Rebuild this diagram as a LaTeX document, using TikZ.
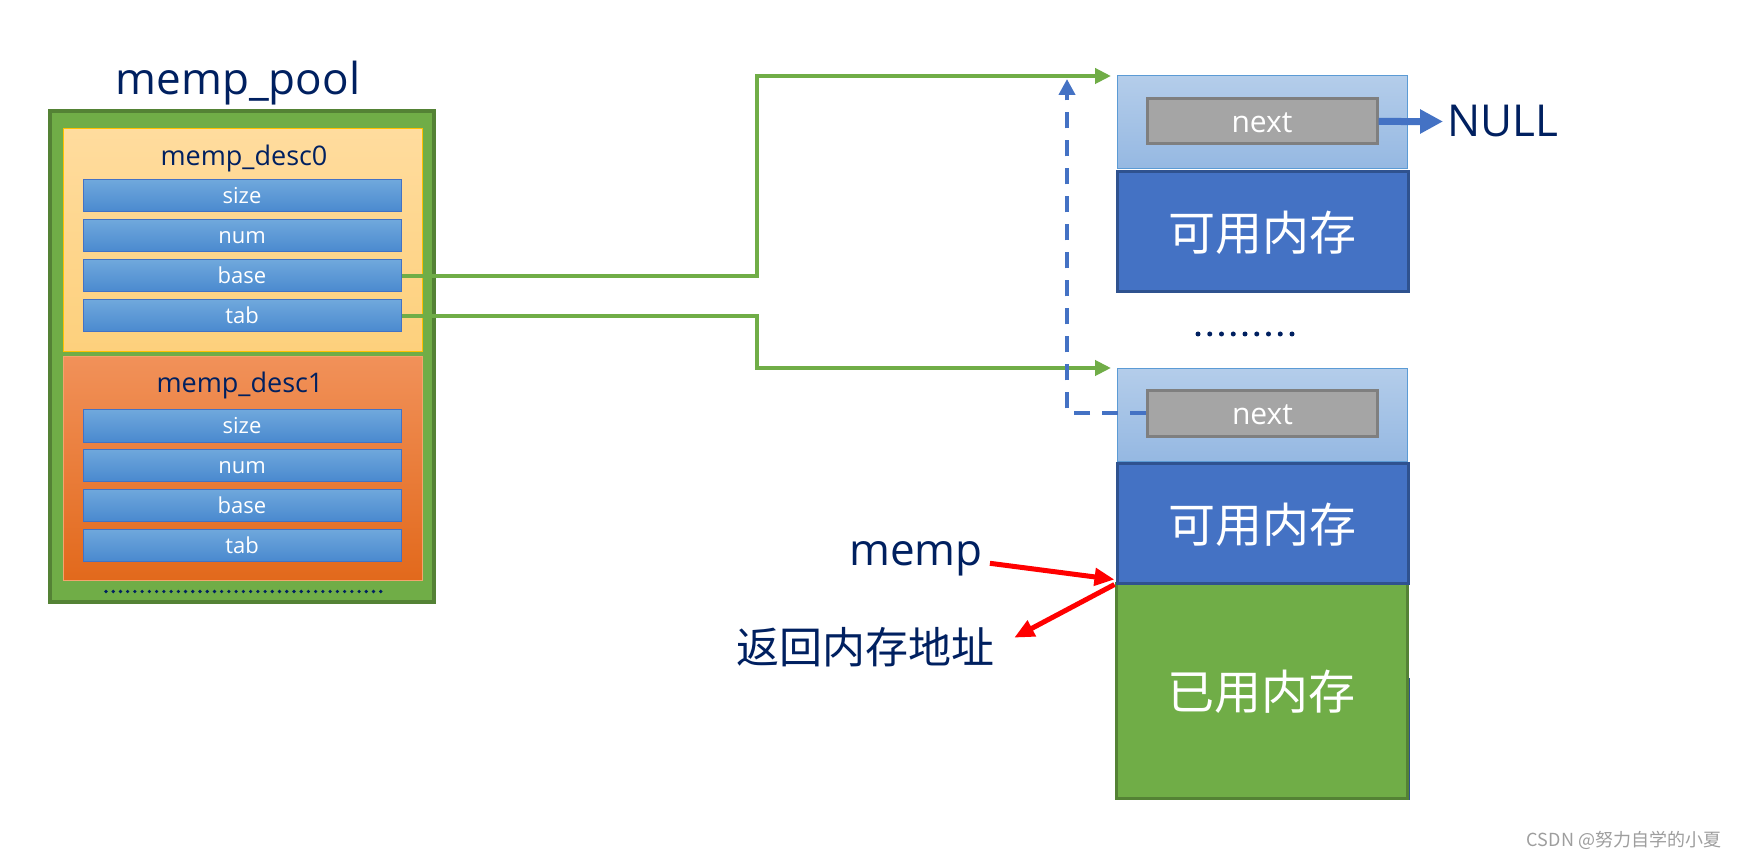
\documentclass[tikz,border=0pt]{standalone}
\usepackage{fontspec}
\setmainfont{Open Sans}
\newfontfamily\cjk{Noto Sans CJK SC}
\usetikzlibrary{arrows.meta}
\definecolor{navy}{HTML}{002060}
\definecolor{poolfill}{HTML}{70AD47}
\definecolor{poolborder}{HTML}{548235}
\definecolor{dzerotop}{HTML}{FFDC9E}
\definecolor{dzerobot}{HTML}{FDD07C}
\definecolor{dzeroborder}{HTML}{FFC000}
\definecolor{donetop}{HTML}{F19159}
\definecolor{donebot}{HTML}{E2691C}
\definecolor{doneborder}{HTML}{F4A46E}
\definecolor{bartop}{HTML}{6FA8DC}
\definecolor{barbot}{HTML}{4A89CF}
\definecolor{barborder}{HTML}{4472C4}
\definecolor{hdrtop}{HTML}{B4CDEA}
\definecolor{hdrbot}{HTML}{95B8E2}
\definecolor{hdrborder}{HTML}{5B9BD5}
\definecolor{nextfill}{HTML}{A5A5A5}
\definecolor{nextborder}{HTML}{7F7F7F}
\definecolor{availfill}{HTML}{4472C4}
\definecolor{availborder}{HTML}{2F528F}
\definecolor{linkgreen}{HTML}{70AD47}
\definecolor{linkblue}{HTML}{4472C4}
\definecolor{wmgray}{HTML}{9E9E9E}
\begin{document}
\begin{tikzpicture}[x=1pt,y=-1pt,
  pool/.style={draw=poolborder, line width=3.5pt, fill=poolfill, minimum width=384pt, minimum height=491pt, inner sep=0pt},
  dzero/.style={draw=dzeroborder, line width=1pt, top color=dzerotop, bottom color=dzerobot, minimum width=359pt, minimum height=223pt, inner sep=0pt},
  done/.style={draw=doneborder, line width=1pt, top color=donetop, bottom color=donebot, minimum width=359pt, minimum height=223pt, inner sep=0pt},
  bar/.style={draw=barborder, line width=1pt, top color=bartop, bottom color=barbot, minimum width=318pt, minimum height=32pt, inner sep=0pt, text=white, font=\fontsize{22}{24}\selectfont, text height=16pt, text depth=0pt},
  bigtitle/.style={text=navy, inner sep=0pt, font=\fontsize{44}{48}\selectfont},
  subtitle/.style={text=navy, inner sep=0pt, font=\fontsize{27}{30}\selectfont},
  hdr/.style={draw=hdrborder, line width=1pt, top color=hdrtop, bottom color=hdrbot, minimum width=290pt, minimum height=93pt, inner sep=0pt},
  nextbox/.style={draw=nextborder, line width=3pt, fill=nextfill, minimum width=230pt, minimum height=45pt, inner sep=0pt, text=white, font=\fontsize{30}{32}\selectfont, text height=22pt, text depth=0pt},
  avail/.style={draw=availborder, line width=3pt, fill=availfill, minimum width=291pt, minimum height=120pt, inner sep=0pt, text=white, font=\cjk\fontsize{47}{50}\selectfont, text height=38pt, text depth=0pt},
  usedbox/.style={draw=poolborder, line width=3pt, fill=poolfill, minimum width=291pt, minimum height=215pt, inner sep=0pt, text=white, font=\cjk\fontsize{47}{50}\selectfont, text height=38pt, text depth=0pt},
  cjklabel/.style={text=navy, inner sep=0pt, font=\cjk\fontsize{43}{46}\selectfont},
  wm/.style={text=wmgray, inner sep=0pt, font=\cjk\fontsize{18}{20}\selectfont},
  greenlink/.style={draw=linkgreen, line width=4pt, -{Triangle[length=16pt,width=15pt]}},
  dashlink/.style={draw=linkblue, line width=4pt, dash pattern=on 16pt off 12pt, -{Triangle[length=16pt,width=16pt]}},
  nulllink/.style={draw=linkblue, line width=7pt, -{Triangle[length=23pt,width=23pt]}},
  redlink/.style={draw=red, line width=5pt, -{Triangle[length=20pt,width=17pt]}}
]
\useasboundingbox[fill=white] (0,0) rectangle (1743,866);

% left: memp_pool
\node[bigtitle, anchor=base] (pooltitle) at (238,95) {memp\_pool};
\node[pool] (pool) at (242,356.5) {};
\node[dzero] (desc0) at (242.5,240.5) {};
\node[done] (desc1) at (242.5,468.5) {};
\node[subtitle, anchor=base] (d0title) at (244,166) {memp\_desc0};
\node[subtitle, anchor=base] (d1title) at (240,393) {memp\_desc1};
\node[bar] (size0) at (242,196) {size};
\node[bar] (num0) at (242,236) {num};
\node[bar] (base0) at (242,276) {base};
\node[bar] (tab0) at (242,316) {tab};
\node[bar] (size1) at (242,426) {size};
\node[bar] (num1) at (242,465) {num};
\node[bar] (base1) at (242,505) {base};
\node[bar] (tab1) at (242,545) {tab};
\foreach \i in {0,...,38} \fill[navy] ({106+\i*7.23},591.5) circle (1.8);

% right: memory blocks
\node[hdr] (hdr1) at (1262,122.5) {};
\node[nextbox] (next1) at (1262,121.5) {next};
\node[avail] (avail1) at (1262.5,232) {可用内存};
\node[bigtitle, anchor=base west] (null) at (1447,137) {NULL};
\foreach \i in {0,...,8} \fill[navy] ({1198+\i*11.75},334) circle (2.5);
\node[hdr] (hdr2) at (1262,415) {};
\node[nextbox] (next2) at (1262.5,413.5) {next};
\draw[availborder, line width=2pt] (1409,678) -- (1409,800);
\node[usedbox] (used) at (1261.5,690.5) {已用内存};
\node[avail] (avail2) at (1262.5,523) {可用内存};

% labels
\node[bigtitle, anchor=base] (memp) at (916,565) {memp};
\node[cjklabel, anchor=base] (ret) at (865,663) {返回内存地址};
\node[wm, anchor=base] (wmark) at (1624,846) {CSDN @努力自学的小夏};

% connectors
\coordinate (t1) at (1111,76);
\coordinate (t2) at (1111,368);
\coordinate (t3) at (1067,79);
\draw[greenlink] (base0.east) -- ++(355,0) |- (t1);
\draw[greenlink] (tab0.east) -- ++(355,0) |- (t2);
\draw[dashlink] (next2.west) -| (t3);
\draw[nulllink] (next1.east) -- ([xshift=-4pt]null.west);
\draw[redlink] ([xshift=7pt,yshift=-5pt]memp.east) -- ([xshift=-1pt,yshift=5pt]avail2.south west);
\draw[redlink] ([yshift=-3pt]used.north west) -- ([xshift=20pt,yshift=-11pt]ret.north east);
\end{tikzpicture}
\end{document}
